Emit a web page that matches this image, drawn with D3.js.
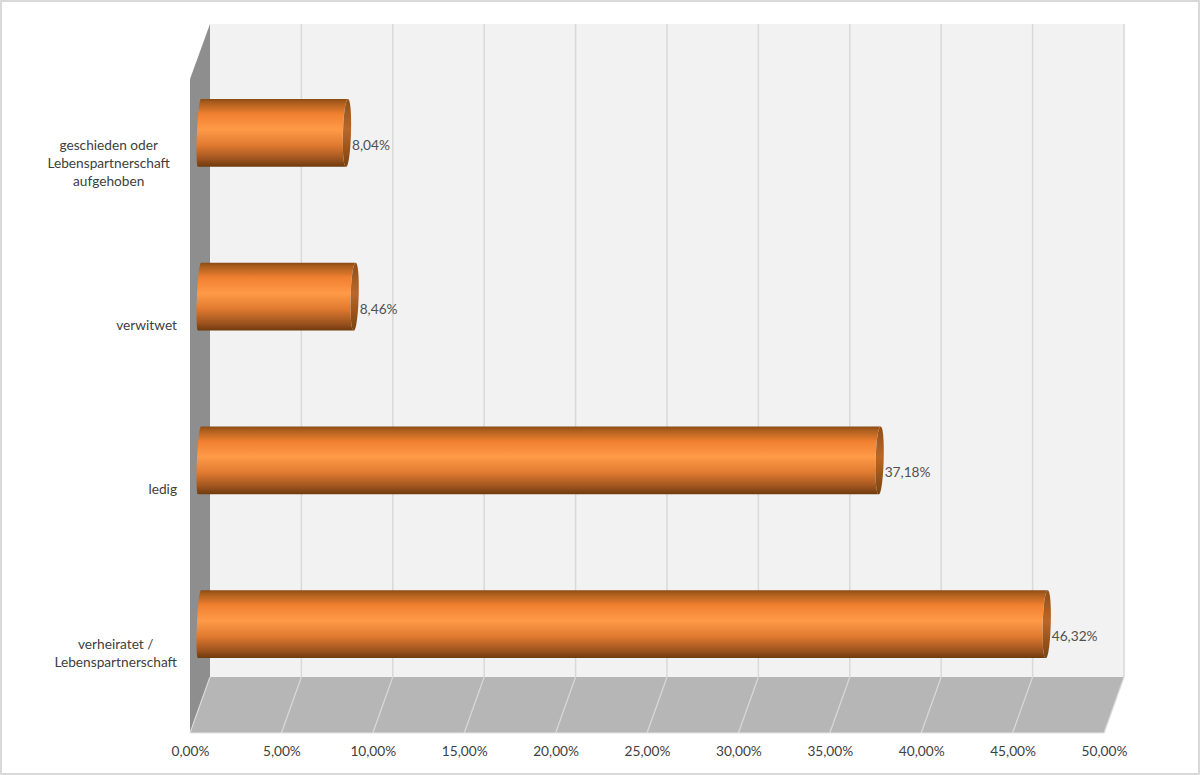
<!DOCTYPE html>
<html>
<head>
<meta charset="utf-8">
<script src="https://cdnjs.cloudflare.com/ajax/libs/d3/7.8.5/d3.min.js"></script>
<style>
  body { margin: 0; background: #fff; }
  text { font-family: Lato, "Open Sans", sans-serif; font-size: 13.7px; fill: #404040; }
</style>
</head>
<body>
<svg id="chart" width="1200" height="775"></svg>
<script>
// values, top bar first
var categories = ["geschieden", "verwitwet", "ledig", "verheiratet"];
var categoryLines = [
    ["geschieden oder", "Lebenspartnerschaft", "aufgehoben"],
    ["verwitwet"],
    ["ledig"],
    ["verheiratet /", "Lebenspartnerschaft"]
];
var values = [8.04, 8.46, 37.18, 46.32];
var tickValues = [0, 5, 10, 15, 20, 25, 30, 35, 40, 45, 50];

var svg = d3.select("#chart");
var fmt = function (d) { return d.toFixed(2).replace(".", ",") + "%"; };

// the 3d box: back wall, bars halfway, floor front edge
var xBack = d3.scaleLinear().domain([0, 50]).range([210, 1124]);
var xMid = d3.scaleLinear().domain([0, 50]).range([200, 1114]);
var xFront = d3.scaleLinear().domain([0, 50]).range([190, 1104]);
var y = d3.scaleBand().domain(categories).range([51, 706]).paddingInner(0.585).paddingOuter(0.2925);

var wallTop = 24, wallBottom = 677, floorFront = 733, frontTop = 79;

// gradients
var defs = svg.append("defs");
function gradient(id, stops) {
    var g = defs.append("linearGradient").attr("id", id)
        .attr("x1", 0).attr("y1", 0).attr("x2", 0).attr("y2", 1);
    stops.forEach(function (s) {
        g.append("stop").attr("offset", s[0]).attr("stop-color", s[1]);
    });
}
gradient("barGrad", [[0, "#8a4a12"], [0.05, "#a85c1c"], [0.22, "#f08030"], [0.45, "#ff9a48"],
    [0.68, "#e07a30"], [0.88, "#a05520"], [1, "#6e3a0c"]]);
gradient("capGrad", [[0, "#8e4f18"], [0.45, "#b9672a"], [1, "#7a430f"]]);

// frame
svg.append("rect").attr("x", 1).attr("y", 1).attr("width", 1198).attr("height", 773)
    .attr("fill", "#fff").attr("stroke", "#d9d9d9").attr("stroke-width", 2);

// walls and floor
svg.append("rect").attr("x", xBack(0)).attr("y", wallTop)
    .attr("width", xBack(50) - xBack(0)).attr("height", wallBottom - wallTop)
    .attr("fill", "#f2f2f2");
svg.append("path")
    .attr("d", d3.line()([[xFront(0), frontTop], [xBack(0), wallTop], [xBack(0), wallBottom], [xFront(0), floorFront]]) + "Z")
    .attr("fill", "#8e8e8e");
svg.append("path")
    .attr("d", d3.line()([[xBack(0), wallBottom], [xBack(50), wallBottom], [xFront(50), floorFront], [xFront(0), floorFront]]) + "Z")
    .attr("fill", "#b6b6b6");

// grid on wall and floor
svg.append("g").selectAll("line").data(tickValues.slice(1)).enter().append("line")
    .attr("x1", function (d) { return xBack(d); })
    .attr("x2", function (d) { return xBack(d); })
    .attr("y1", wallTop).attr("y2", wallBottom)
    .attr("stroke", "#d9d9d9").attr("stroke-width", 1.5);
svg.append("g").selectAll("line").data(tickValues).enter().append("line")
    .attr("x1", function (d) { return xBack(d); })
    .attr("x2", function (d) { return xFront(d); })
    .attr("y1", wallBottom).attr("y2", floorFront)
    .attr("stroke", "#d9d9d9").attr("stroke-width", 1.2);
svg.append("line").attr("x1", xFront(0)).attr("x2", xFront(50))
    .attr("y1", floorFront).attr("y2", floorFront)
    .attr("stroke", "#e4e4e4").attr("stroke-width", 1);

// half ellipse between two points, bulge is signed (+ goes right)
function halfEllipse(xa, ya, xb, yb, bulge) {
    var k = bulge * 4 / 3;
    return "C" + (xa + k) + "," + ya + " " + (xb + k) + "," + yb + " " + xb + "," + yb;
}

// bars: slightly skewed cylinders
var bars = svg.append("g").selectAll("g").data(values).enter().append("g");
bars.append("path")
    .attr("fill", "url(#barGrad)")
    .attr("d", function (d, i) {
        var top = y(categories[i]), bot = top + y.bandwidth(), x0 = xMid(0), x1 = xMid(d);
        return "M" + (x0 + 1) + "," + top + halfEllipse(x0 + 1, top, x0 - 2, bot, -2.5) +
            "L" + (x1 - 1) + "," + bot + halfEllipse(x1 - 1, bot, x1 + 1, top, -4) + "Z";
    });
bars.append("path")
    .attr("fill", "url(#capGrad)")
    .attr("d", function (d, i) {
        var top = y(categories[i]), bot = top + y.bandwidth(), x1 = xMid(d);
        return "M" + (x1 + 1) + "," + top + halfEllipse(x1 + 1, top, x1 - 1, bot, 4) +
            halfEllipse(x1 - 1, bot, x1 + 1, top, -4) + "Z";
    });
bars.append("text")
    .attr("x", function (d) { return xMid(d) + 5; })
    .attr("y", function (d, i) { return y(categories[i]) + y.bandwidth() / 2 + 11.5; })
    .attr("dominant-baseline", "central")
    .style("fill", "#505050")
    .text(fmt);

// value axis under the floor
var axis = d3.axisBottom(xFront).tickValues(tickValues).tickFormat(fmt).tickSize(0).tickPadding(0);
var axisG = svg.append("g").attr("transform", "translate(0,746)").call(axis);
axisG.select(".domain").remove();
axisG.selectAll("text").style("font-family", "Lato, 'Open Sans', sans-serif")
    .style("font-size", "13.7px").style("fill", "#404040");

// category labels, centred block against the wall
var lineH = 18;
categoryLines.forEach(function (lines, i) {
    var g = svg.append("g");
    var mid = y(categories[i]) + y.bandwidth() / 2 + (lines.length == 3 ? 30 : 28);
    var tx = g.selectAll("text").data(lines).enter().append("text")
        .attr("text-anchor", "middle")
        .attr("dominant-baseline", "central")
        .attr("y", function (d, j) { return mid + (j - (lines.length - 1) / 2) * lineH; })
        .text(function (d) { return d; });
    var w = d3.max(tx.nodes(), function (n) { return n.getComputedTextLength(); });
    var right = lines.length == 3 ? 170 : 177;   // the long label sits further left
    tx.attr("x", right - w / 2);
});
</script>
</body>
</html>
